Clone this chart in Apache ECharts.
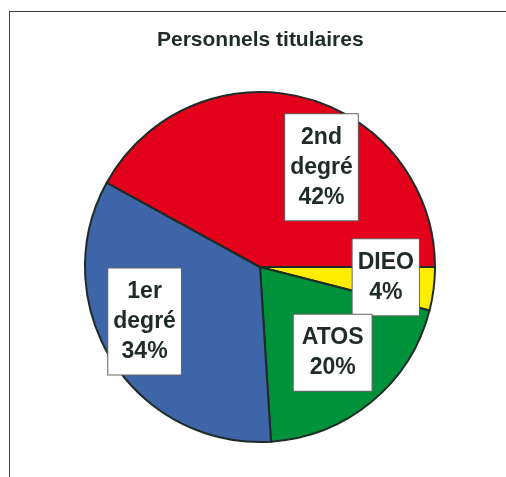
<!DOCTYPE html>
<html lang="fr">
<head>
  <meta charset="UTF-8" />
  <title>Personnels titulaires</title>
  <style>
    body { margin: 0; background: #fff; font-family: 'Liberation Sans', Arial, sans-serif }
    #frame { position: absolute; left: 9px; top: 11px; width: 600px; height: 600px; border: 1px solid #3a3f3e }
    #chart { position: absolute; left: 0; top: 0; width: 506px; height: 477px }
  </style>
  <script src="https://cdn.jsdelivr.net/npm/echarts@6/dist/echarts.min.js"></script>
</head>
<body>
  <div id="frame"></div>
  <div id="chart"></div>
  <script>
    // données (ordre horaire depuis 3 h)
    const categories = ['DIEO', 'ATOS', '1er degré', '2nd degré'];
    const values = [4, 20, 34, 42];

    // couleurs et décalages des étiquettes
    const colors = ['#ffed00', '#00923a', '#3f65a9', '#e2001a'];
    const labelOffsets = [[36, -1], [15, 16], [-39, 6], [39, -12]];
    const labelPadding = [[8, 5], [8, 8], [8, 5], [8, 5]];

    const chart = echarts.init(document.getElementById('chart'));

    chart.setOption({
      animation: false,
      title: {
        text: 'Personnels titulaires',
        left: 157,
        top: 30,
        padding: 0,
        textStyle: { fontFamily: 'Liberation Sans', fontSize: 21, fontWeight: 'bold', color: '#1e2b28' }
      },
      series: [{
        type: 'pie',
        center: [260, 267],
        radius: 175,
        startAngle: 0,
        clockwise: true,
        itemStyle: { borderColor: '#1e2b28', borderWidth: 2 },
        label: {
          position: 'inside',
          fontFamily: 'Liberation Sans',
          fontSize: 23,
          fontWeight: 'bold',
          lineHeight: 30,
          color: '#1e2b28',
          backgroundColor: '#fff',
          borderColor: '#666',
          borderWidth: 1,
          formatter: p => p.name.replace(' ', '\n') + '\n' + Math.round(p.percent) + '%'
        },
        // DIEO et ATOS se touchent : ne rien masquer
        labelLayout: { hideOverlap: false },
        labelLine: { show: false },
        emphasis: { disabled: true },
        data: categories.map((c, i) => ({
          name: c,
          value: values[i],
          itemStyle: { color: colors[i] },
          label: { offset: labelOffsets[i], padding: labelPadding[i] }
        }))
      }]
    });
  </script>
</body>
</html>
